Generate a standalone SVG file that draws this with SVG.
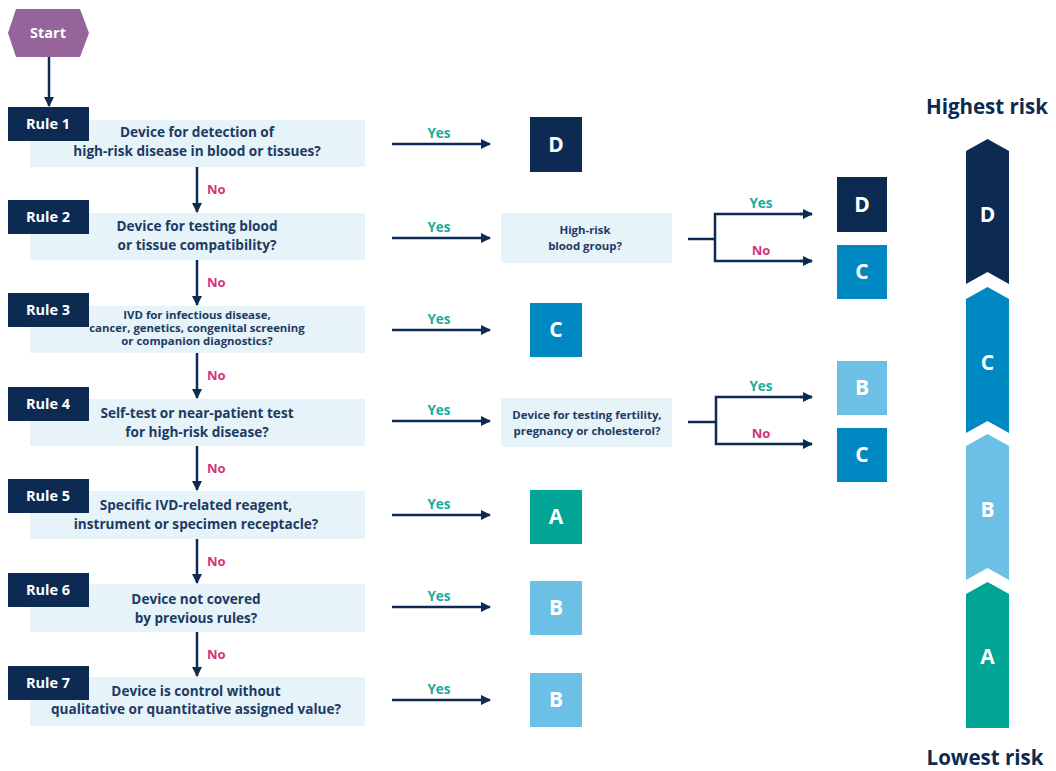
<svg xmlns="http://www.w3.org/2000/svg" width="1056" height="771" viewBox="0 0 1056 771">
  <style>
    .navy { fill: #0c2a52; }
    .q { fill: #e6f3f8; }
    .rule { fill: #ffffff; font-family: "Open Sans", "Liberation Sans", sans-serif; font-weight: 700; font-size: 14.5px; text-anchor: middle; }
    .qt { fill: #1d3a63; font-family: "Open Sans", "Liberation Sans", sans-serif; font-weight: 700; font-size: 13.6px; text-anchor: middle; }
    .qs { fill: #1d3a63; font-family: "Open Sans", "Liberation Sans", sans-serif; font-weight: 700; font-size: 11.4px; text-anchor: middle; }
    .cls { fill: #ffffff; font-family: "Open Sans", "Liberation Sans", sans-serif; font-weight: 700; font-size: 21px; text-anchor: middle; }
    .yes { fill: #1aab9b; font-family: "Open Sans", "Liberation Sans", sans-serif; font-weight: 700; font-size: 13.5px; text-anchor: middle; }
    .no { fill: #d3327e; font-family: "Open Sans", "Liberation Sans", sans-serif; font-weight: 700; font-size: 13px; }
    .risk { fill: #0c2a52; font-family: "Open Sans", "Liberation Sans", sans-serif; font-weight: 700; font-size: 20.5px; text-anchor: middle; }
    .ln { stroke: #0c2a52; stroke-width: 2.5; fill: none; }
    .cD { fill: #0c2a52; }
    .cC { fill: #0088c2; }
    .cB { fill: #6cc0e5; }
    .cA { fill: #00a596; }
  </style>
  <defs>
    <marker id="ah" viewBox="0 0 10 10" refX="9" refY="5" markerWidth="4" markerHeight="4" orient="auto" markerUnits="strokeWidth">
      <path d="M0,0 L10,5 L0,10 Z" fill="#0c2a52"/>
    </marker>
  </defs>

  <!-- Start -->
  <g id="start">
    <polygon points="8,33 16,9 80,9 89,33 80,57 16,57" fill="#94649a"/>
    <text x="48" y="38" class="rule" font-size="14">Start</text>
  </g>

  <!-- Rule rows -->
  <g id="rule1">
    <rect x="30" y="120" width="335" height="47" class="q"/>
    <rect x="8" y="107" width="81" height="34" class="navy"/>
    <text x="48" y="129" class="rule">Rule 1</text>
    <text x="197" y="137" class="qt">Device for detection of</text>
    <text x="197" y="156" class="qt">high-risk disease in blood or tissues?</text>
  </g>
  <g id="rule2">
    <rect x="30" y="213" width="335" height="47" class="q"/>
    <rect x="8" y="200" width="81" height="34" class="navy"/>
    <text x="48" y="222" class="rule">Rule 2</text>
    <text x="197" y="231" class="qt">Device for testing blood</text>
    <text x="197" y="250" class="qt">or tissue compatibility?</text>
  </g>
  <g id="rule3">
    <rect x="30" y="306" width="335" height="47" class="q"/>
    <rect x="8" y="293" width="81" height="34" class="navy"/>
    <text x="48" y="315" class="rule">Rule 3</text>
    <text x="197" y="319" class="qs">IVD for infectious disease,</text>
    <text x="197" y="332" class="qs">cancer, genetics, congenital screening</text>
    <text x="197" y="345" class="qs">or companion diagnostics?</text>
  </g>
  <g id="rule4">
    <rect x="30" y="399" width="335" height="47" class="q"/>
    <rect x="8" y="387" width="81" height="34" class="navy"/>
    <text x="48" y="409" class="rule">Rule 4</text>
    <text x="197" y="418" class="qt">Self-test or near-patient test</text>
    <text x="197" y="437" class="qt">for high-risk disease?</text>
  </g>
  <g id="rule5">
    <rect x="30" y="491" width="335" height="48" class="q"/>
    <rect x="8" y="479" width="81" height="34" class="navy"/>
    <text x="48" y="501" class="rule">Rule 5</text>
    <text x="196" y="510" class="qt">Specific IVD-related reagent,</text>
    <text x="196" y="529" class="qt">instrument or specimen receptacle?</text>
  </g>
  <g id="rule6">
    <rect x="30" y="584" width="335" height="48" class="q"/>
    <rect x="8" y="573" width="81" height="34" class="navy"/>
    <text x="48" y="595" class="rule">Rule 6</text>
    <text x="196" y="604" class="qt">Device not covered</text>
    <text x="196" y="623" class="qt">by previous rules?</text>
  </g>
  <g id="rule7">
    <rect x="30" y="677" width="335" height="49" class="q"/>
    <rect x="8" y="666" width="81" height="34" class="navy"/>
    <text x="48" y="688" class="rule">Rule 7</text>
    <text x="196" y="696" class="qt">Device is control without</text>
    <text x="196" y="714" class="qt">qualitative or quantitative assigned value?</text>
  </g>

  <!-- Sub-questions -->
  <g id="q-blood-group">
    <rect x="501" y="213" width="171" height="50" class="q"/>
    <text x="585" y="234" class="qs">High-risk</text>
    <text x="585" y="250" class="qs">blood group?</text>
  </g>
  <g id="q-fertility">
    <rect x="501" y="398" width="171" height="49" class="q"/>
    <text x="587" y="419" class="qs">Device for testing fertility,</text>
    <text x="587" y="435" class="qs">pregnancy or cholesterol?</text>
  </g>

  <!-- Class outcomes -->
  <g id="out1"><rect x="530" y="117" width="52" height="55" class="cD"/><text x="556" y="152" class="cls">D</text></g>
  <g id="out2d"><rect x="837" y="177" width="50" height="55" class="cD"/><text x="862" y="212" class="cls">D</text></g>
  <g id="out2c"><rect x="837" y="245" width="50" height="54" class="cC"/><text x="862" y="279" class="cls">C</text></g>
  <g id="out3"><rect x="530" y="303" width="52" height="54" class="cC"/><text x="556" y="337" class="cls">C</text></g>
  <g id="out4b"><rect x="837" y="361" width="50" height="54" class="cB"/><text x="862" y="395" class="cls">B</text></g>
  <g id="out4c"><rect x="837" y="428" width="50" height="54" class="cC"/><text x="862" y="462" class="cls">C</text></g>
  <g id="out5"><rect x="530" y="490" width="52" height="54" class="cA"/><text x="556" y="524" class="cls">A</text></g>
  <g id="out6"><rect x="530" y="581" width="52" height="54" class="cB"/><text x="556" y="615" class="cls">B</text></g>
  <g id="out7"><rect x="530" y="673" width="52" height="54" class="cB"/><text x="556" y="707" class="cls">B</text></g>

  <!-- Connectors -->
  <g id="connectors">
    <line x1="49" y1="57" x2="49" y2="106" class="ln" marker-end="url(#ah)"/>
    <!-- No (down) -->
    <line x1="197" y1="167" x2="197" y2="212" class="ln" marker-end="url(#ah)"/>
    <line x1="197" y1="260" x2="197" y2="305" class="ln" marker-end="url(#ah)"/>
    <line x1="197" y1="353" x2="197" y2="398" class="ln" marker-end="url(#ah)"/>
    <line x1="197" y1="446" x2="197" y2="490" class="ln" marker-end="url(#ah)"/>
    <line x1="197" y1="539" x2="197" y2="583" class="ln" marker-end="url(#ah)"/>
    <line x1="197" y1="632" x2="197" y2="676" class="ln" marker-end="url(#ah)"/>
    <text x="207" y="194" class="no">No</text>
    <text x="207" y="287" class="no">No</text>
    <text x="207" y="380" class="no">No</text>
    <text x="207" y="473" class="no">No</text>
    <text x="207" y="566" class="no">No</text>
    <text x="207" y="659" class="no">No</text>
    <!-- Yes (right) -->
    <line x1="392" y1="144" x2="490" y2="144" class="ln" marker-end="url(#ah)"/>
    <line x1="392" y1="238" x2="490" y2="238" class="ln" marker-end="url(#ah)"/>
    <line x1="392" y1="330" x2="490" y2="330" class="ln" marker-end="url(#ah)"/>
    <line x1="392" y1="421" x2="490" y2="421" class="ln" marker-end="url(#ah)"/>
    <line x1="392" y1="515" x2="490" y2="515" class="ln" marker-end="url(#ah)"/>
    <line x1="392" y1="607" x2="490" y2="607" class="ln" marker-end="url(#ah)"/>
    <line x1="392" y1="700" x2="490" y2="700" class="ln" marker-end="url(#ah)"/>
    <text x="439" y="138" class="yes">Yes</text>
    <text x="439" y="232" class="yes">Yes</text>
    <text x="439" y="324" class="yes">Yes</text>
    <text x="439" y="415" class="yes">Yes</text>
    <text x="439" y="509" class="yes">Yes</text>
    <text x="439" y="601" class="yes">Yes</text>
    <text x="439" y="694" class="yes">Yes</text>
    <!-- Blood group branch -->
    <polyline points="688,239 715,239" class="ln"/>
    <polyline points="812,214 715,214 715,261 812,261" class="ln"/>
    <line x1="800" y1="214" x2="812" y2="214" class="ln" marker-end="url(#ah)"/>
    <line x1="800" y1="261" x2="812" y2="261" class="ln" marker-end="url(#ah)"/>
    <text x="761" y="208" class="yes">Yes</text>
    <text x="761" y="255" class="no" text-anchor="middle">No</text>
    <!-- Fertility branch -->
    <polyline points="688,422 716,422" class="ln"/>
    <polyline points="812,397 716,397 716,444 812,444" class="ln"/>
    <line x1="800" y1="397" x2="812" y2="397" class="ln" marker-end="url(#ah)"/>
    <line x1="800" y1="444" x2="812" y2="444" class="ln" marker-end="url(#ah)"/>
    <text x="761" y="391" class="yes">Yes</text>
    <text x="761" y="438" class="no" text-anchor="middle">No</text>
  </g>

  <!-- Risk scale -->
  <g id="risk-scale">
    <text x="987" y="114" class="risk">Highest risk</text>
    <polygon points="966,151 987.5,139 1009,151 1009,284 987.5,272 966,284" class="cD"/>
    <polygon points="966,299 987.5,287 1009,299 1009,433 987.5,421 966,433" class="cC"/>
    <polygon points="966,446 987.5,434 1009,446 1009,580 987.5,568 966,580" class="cB"/>
    <polygon points="966,594 987.5,582 1009,594 1009,728 966,728" class="cA"/>
    <text x="987.5" y="222" class="cls">D</text>
    <text x="987.5" y="370" class="cls">C</text>
    <text x="987.5" y="517" class="cls">B</text>
    <text x="987.5" y="664" class="cls">A</text>
    <text x="985" y="765" class="risk">Lowest risk</text>
  </g>
</svg>
